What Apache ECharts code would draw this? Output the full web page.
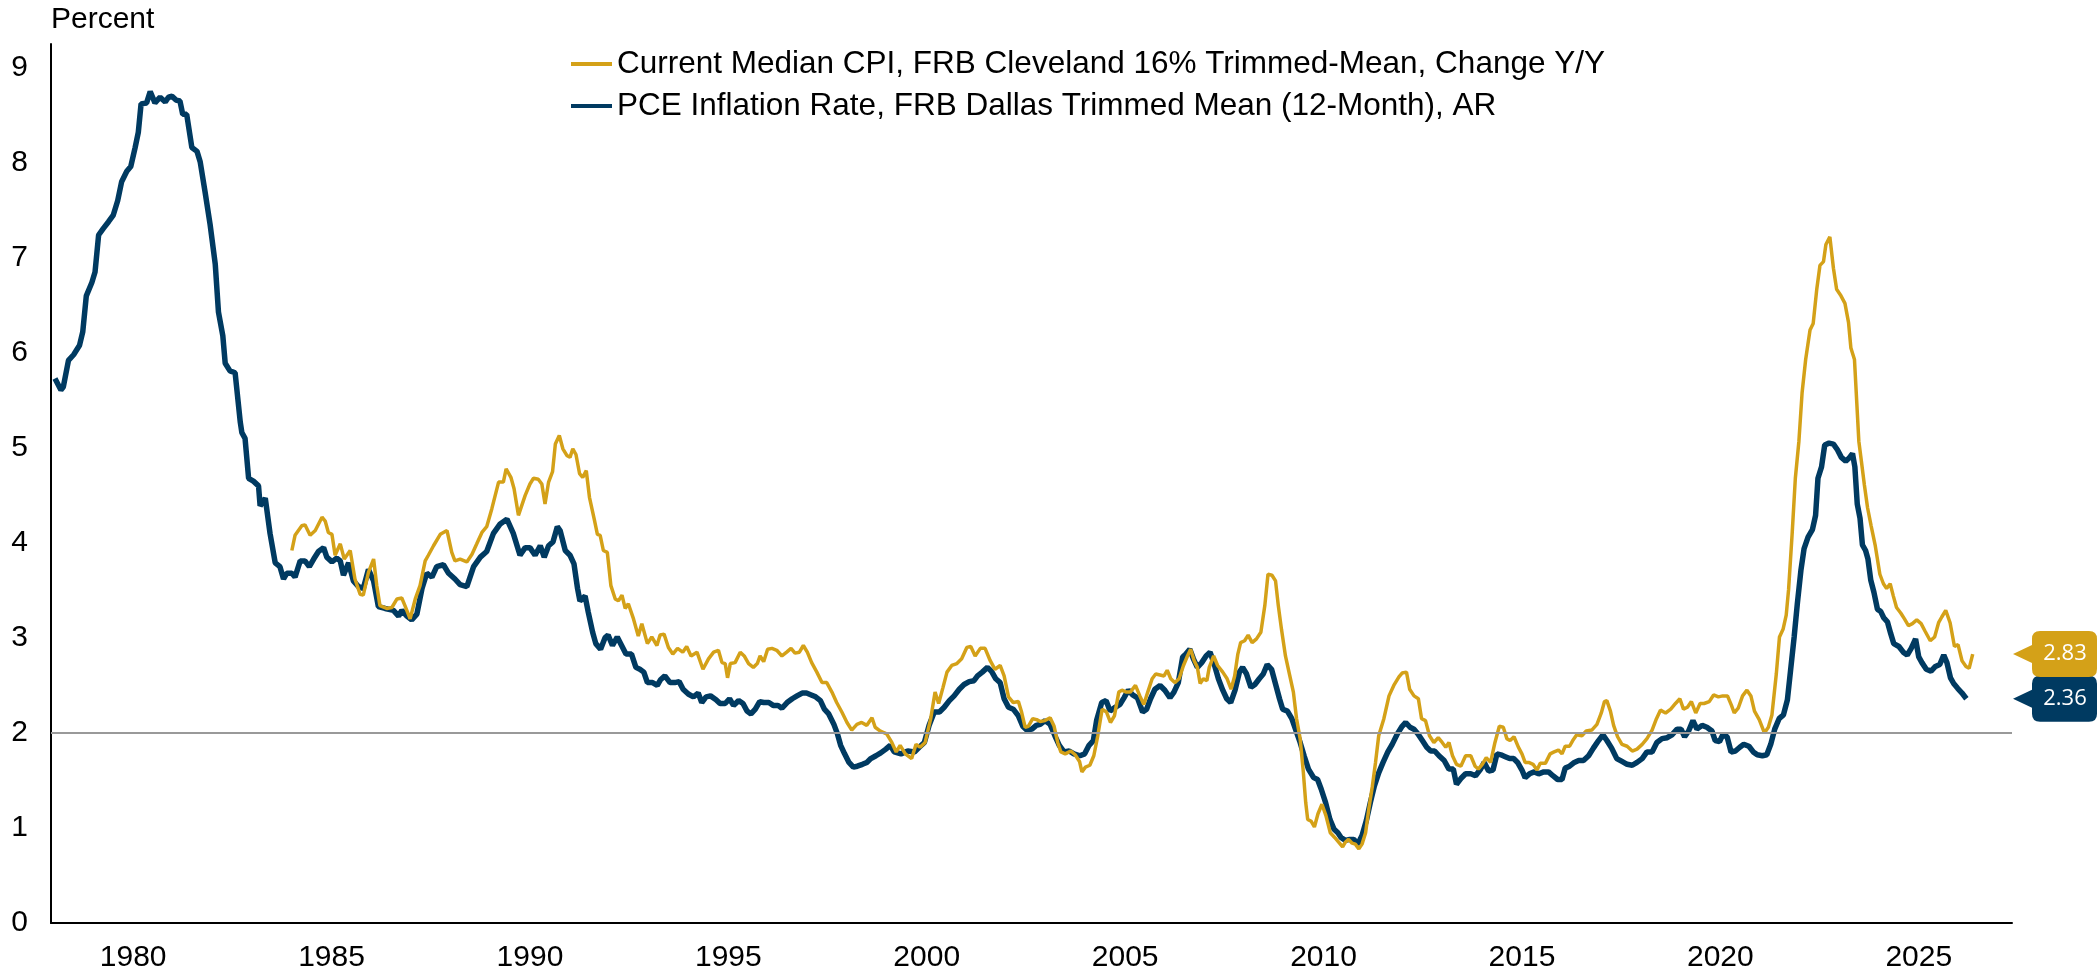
<!DOCTYPE html>
<html>
<head>
<meta charset="utf-8">
<script src="https://cdn.jsdelivr.net/npm/echarts@6/dist/echarts.min.js"></script>
<style>
  html, body { margin: 0; padding: 0; background: #fff; }
  #main { width: 2100px; height: 974px; }
</style>
</head>
<body>
<div id="main"></div>
<script>
// tick labels
var xTicks = [1980, 1985, 1990, 1995, 2000, 2005, 2010, 2015, 2020, 2025];
var yTicks = [0, 1, 2, 3, 4, 5, 6, 7, 8, 9];
var targetLine = 2;

var cpiName = 'Current Median CPI, FRB Cleveland 16% Trimmed-Mean, Change Y/Y';
var pceName = 'PCE Inflation Rate, FRB Dallas Trimmed Mean (12-Month), AR';

// [decimal year, percent]
var pcePoints = [
  [1978.03,5.73],[1978.18,5.61],[1978.24,5.64],[1978.37,5.92],[1978.50,5.98],[1978.65,6.08],[1978.73,6.22],[1978.82,6.60],[1978.96,6.74],
  [1979.04,6.85],[1979.13,7.24],[1979.25,7.31],[1979.38,7.38],[1979.50,7.45],[1979.61,7.60],[1979.71,7.80],[1979.84,7.91],[1979.94,7.96],
  [1980.05,8.16],[1980.13,8.32],[1980.20,8.62],[1980.34,8.63],[1980.43,8.75],[1980.55,8.63],[1980.68,8.69],[1980.81,8.64],[1980.89,8.69],[1980.98,8.70],
  [1981.08,8.66],[1981.18,8.65],[1981.25,8.51],[1981.35,8.51],[1981.48,8.16],[1981.61,8.12],[1981.69,8.01],[1981.81,7.70],[1981.94,7.35],
  [1982.07,6.93],[1982.15,6.43],[1982.26,6.18],[1982.32,5.89],[1982.44,5.81],[1982.57,5.79],[1982.70,5.27],[1982.74,5.16],[1982.82,5.10],[1982.91,4.68],
  [1983.03,4.65],[1983.16,4.60],[1983.20,4.39],[1983.33,4.47],[1983.45,4.10],[1983.58,3.79],[1983.70,3.75],[1983.79,3.62],[1983.87,3.68],
  [1984.00,3.68],[1984.08,3.64],[1984.21,3.81],[1984.33,3.81],[1984.44,3.75],[1984.55,3.83],[1984.67,3.91],[1984.80,3.95],[1984.88,3.85],
  [1985.01,3.80],[1985.13,3.84],[1985.22,3.81],[1985.30,3.66],[1985.43,3.79],[1985.55,3.60],[1985.68,3.54],[1985.80,3.52],[1985.93,3.72],
  [1986.06,3.60],[1986.18,3.33],[1986.35,3.31],[1986.56,3.29],[1986.69,3.23],[1986.77,3.29],[1986.90,3.23],
  [1987.02,3.19],[1987.15,3.25],[1987.28,3.52],[1987.40,3.68],[1987.53,3.64],[1987.65,3.75],[1987.82,3.77],[1987.95,3.68],
  [1988.11,3.62],[1988.24,3.56],[1988.41,3.54],[1988.58,3.75],[1988.75,3.85],[1988.91,3.91],
  [1989.08,4.10],[1989.25,4.20],[1989.42,4.25],[1989.58,4.10],[1989.75,3.87],[1989.88,3.95],
  [1990.00,3.95],[1990.13,3.87],[1990.26,3.97],[1990.36,3.85],[1990.47,3.97],[1990.58,4.01],[1990.69,4.17],[1990.76,4.13],[1990.89,3.92],
  [1991.01,3.87],[1991.11,3.78],[1991.20,3.52],[1991.26,3.39],[1991.39,3.44],[1991.47,3.27],[1991.58,3.06],[1991.66,2.94],[1991.78,2.88],[1991.89,3.00],[1991.97,3.03],
  [1992.08,2.92],[1992.20,3.01],[1992.31,2.92],[1992.42,2.83],[1992.56,2.83],[1992.67,2.69],[1992.77,2.67],[1992.87,2.64],[1992.96,2.53],
  [1993.09,2.53],[1993.21,2.50],[1993.29,2.56],[1993.40,2.60],[1993.53,2.53],[1993.65,2.53],[1993.76,2.54],[1993.86,2.46],[1993.99,2.41],
  [1994.12,2.38],[1994.24,2.42],[1994.33,2.32],[1994.44,2.38],[1994.55,2.39],[1994.69,2.35],[1994.79,2.31],[1994.92,2.31],
  [1995.03,2.36],[1995.13,2.29],[1995.26,2.34],[1995.37,2.31],[1995.47,2.23],[1995.57,2.20],[1995.68,2.25],[1995.79,2.33],[1995.89,2.32],
  [1996.02,2.32],[1996.13,2.29],[1996.25,2.29],[1996.35,2.26],[1996.48,2.32],[1996.61,2.36],[1996.73,2.39],[1996.86,2.42],[1996.97,2.42],
  [1997.09,2.40],[1997.20,2.38],[1997.32,2.34],[1997.42,2.25],[1997.53,2.20],[1997.66,2.09],[1997.75,1.99],[1997.83,1.87],[1997.93,1.78],
  [1998.04,1.69],[1998.15,1.64],[1998.25,1.65],[1998.38,1.67],[1998.49,1.69],[1998.59,1.73],[1998.72,1.76],[1998.84,1.79],[1998.97,1.83],
  [1999.08,1.87],[1999.18,1.80],[1999.35,1.78],[1999.52,1.81],[1999.69,1.80],[1999.81,1.85],[1999.94,1.90],
  [2000.06,2.08],[2000.19,2.22],[2000.32,2.22],[2000.44,2.27],[2000.57,2.34],[2000.69,2.39],[2000.82,2.46],[2000.94,2.51],
  [2001.07,2.54],[2001.19,2.55],[2001.28,2.60],[2001.40,2.64],[2001.53,2.69],[2001.63,2.65],[2001.74,2.57],[2001.85,2.53],[2001.95,2.36],
  [2002.06,2.27],[2002.18,2.25],[2002.31,2.18],[2002.42,2.07],[2002.52,2.03],[2002.65,2.04],[2002.76,2.08],[2002.86,2.09],[2002.98,2.13],
  [2003.11,2.09],[2003.23,1.97],[2003.34,1.87],[2003.46,1.80],[2003.59,1.81],[2003.71,1.78],[2003.86,1.76],[2003.98,1.78],
  [2004.09,1.87],[2004.20,1.92],[2004.28,2.13],[2004.41,2.32],[2004.52,2.34],[2004.62,2.23],[2004.75,2.27],[2004.87,2.30],[2004.97,2.37],
  [2005.08,2.45],[2005.19,2.40],[2005.31,2.37],[2005.44,2.22],[2005.54,2.25],[2005.64,2.36],[2005.75,2.46],[2005.88,2.50],
  [2006.00,2.45],[2006.13,2.37],[2006.23,2.43],[2006.34,2.53],[2006.45,2.80],[2006.53,2.83],[2006.63,2.88],[2006.72,2.78],[2006.82,2.69],[2006.93,2.74],
  [2007.04,2.81],[2007.14,2.85],[2007.24,2.73],[2007.35,2.57],[2007.46,2.45],[2007.56,2.36],[2007.66,2.32],[2007.77,2.45],[2007.88,2.64],[2007.96,2.69],
  [2008.06,2.62],[2008.17,2.48],[2008.27,2.51],[2008.38,2.57],[2008.48,2.62],[2008.58,2.72],[2008.69,2.67],[2008.80,2.50],[2008.89,2.36],[2008.97,2.25],
  [2009.09,2.23],[2009.20,2.15],[2009.31,2.02],[2009.41,1.90],[2009.51,1.76],[2009.62,1.62],[2009.75,1.53],[2009.85,1.51],[2009.94,1.41],
  [2010.05,1.27],[2010.16,1.09],[2010.26,0.99],[2010.36,0.95],[2010.44,0.90],[2010.55,0.87],[2010.66,0.88],[2010.76,0.88],[2010.86,0.83],[2010.97,0.92],
  [2011.08,1.08],[2011.18,1.27],[2011.28,1.44],[2011.39,1.58],[2011.50,1.69],[2011.62,1.80],[2011.73,1.88],[2011.86,1.99],[2011.98,2.07],
  [2012.07,2.11],[2012.18,2.06],[2012.28,2.04],[2012.38,1.99],[2012.49,1.92],[2012.60,1.85],[2012.70,1.81],[2012.80,1.81],[2012.91,1.76],
  [2013.04,1.71],[2013.16,1.62],[2013.27,1.62],[2013.35,1.46],[2013.46,1.52],[2013.58,1.57],[2013.71,1.57],[2013.83,1.55],[2013.96,1.62],
  [2014.05,1.69],[2014.16,1.60],[2014.27,1.61],[2014.37,1.78],[2014.47,1.77],[2014.58,1.75],[2014.69,1.73],[2014.79,1.73],[2014.89,1.69],
  [2015.00,1.61],[2015.08,1.53],[2015.19,1.57],[2015.31,1.59],[2015.42,1.57],[2015.55,1.59],[2015.67,1.59],[2015.78,1.55],[2015.90,1.51],
  [2016.01,1.51],[2016.09,1.63],[2016.20,1.65],[2016.32,1.69],[2016.43,1.71],[2016.55,1.71],[2016.68,1.76],[2016.80,1.84],[2016.93,1.92],
  [2017.04,1.98],[2017.14,1.92],[2017.26,1.84],[2017.39,1.73],[2017.52,1.70],[2017.65,1.67],[2017.78,1.66],[2017.90,1.69],
  [2018.03,1.73],[2018.15,1.80],[2018.28,1.80],[2018.40,1.90],[2018.53,1.94],[2018.66,1.95],[2018.78,1.98],[2018.91,2.04],
  [2019.01,2.04],[2019.10,1.96],[2019.20,2.02],[2019.31,2.13],[2019.41,2.04],[2019.54,2.08],[2019.66,2.06],[2019.79,2.02],[2019.87,1.92],[2019.98,1.91],
  [2020.06,1.98],[2020.17,1.96],[2020.27,1.80],[2020.38,1.81],[2020.49,1.85],[2020.59,1.88],[2020.72,1.86],[2020.83,1.80],[2020.93,1.77],
  [2021.06,1.76],[2021.17,1.77],[2021.27,1.88],[2021.37,2.04],[2021.48,2.15],[2021.59,2.19],[2021.69,2.35],[2021.77,2.66],[2021.86,3.01],[2021.94,3.36],
  [2022.03,3.71],[2022.11,3.94],[2022.21,4.06],[2022.32,4.14],[2022.40,4.29],[2022.46,4.68],[2022.55,4.80],[2022.63,5.03],[2022.74,5.05],[2022.85,5.04],[2022.95,4.98],
  [2023.05,4.90],[2023.16,4.86],[2023.24,4.89],[2023.33,4.94],[2023.39,4.80],[2023.45,4.41],[2023.52,4.26],[2023.58,3.98],[2023.66,3.92],[2023.72,3.83],[2023.79,3.61],[2023.87,3.48],[2023.96,3.30],
  [2024.04,3.28],[2024.12,3.21],[2024.21,3.17],[2024.29,3.05],[2024.37,2.94],[2024.50,2.91],[2024.61,2.85],[2024.71,2.82],[2024.81,2.89],[2024.92,2.99],
  [2025.00,2.80],[2025.08,2.74],[2025.19,2.67],[2025.31,2.65],[2025.42,2.70],[2025.53,2.72],[2025.63,2.82],[2025.71,2.74],[2025.80,2.58],[2025.88,2.52],[2025.98,2.47],
  [2026.09,2.42],[2026.20,2.36]
];

var cpiPoints = [
  [1984.00,3.92],[1984.08,4.08],[1984.25,4.18],[1984.33,4.19],[1984.46,4.08],[1984.59,4.13],[1984.76,4.27],[1984.84,4.23],[1984.92,4.11],
  [1985.01,4.09],[1985.09,3.87],[1985.22,3.99],[1985.32,3.83],[1985.47,3.92],[1985.59,3.62],[1985.72,3.46],[1985.80,3.45],[1985.93,3.69],
  [1986.06,3.83],[1986.14,3.55],[1986.22,3.34],[1986.39,3.31],[1986.52,3.32],[1986.65,3.41],[1986.77,3.42],[1986.85,3.34],[1986.98,3.20],
  [1987.11,3.41],[1987.23,3.55],[1987.36,3.81],[1987.44,3.87],[1987.57,3.97],[1987.74,4.09],[1987.91,4.13],
  [1988.03,3.90],[1988.11,3.81],[1988.24,3.83],[1988.41,3.80],[1988.54,3.88],[1988.66,3.99],[1988.79,4.11],[1988.91,4.17],
  [1989.04,4.36],[1989.21,4.64],[1989.33,4.64],[1989.40,4.78],[1989.52,4.69],[1989.60,4.57],[1989.71,4.29],[1989.88,4.50],
  [1990.00,4.62],[1990.09,4.68],[1990.21,4.67],[1990.30,4.62],[1990.38,4.41],[1990.47,4.64],[1990.57,4.75],[1990.64,5.04],[1990.74,5.13],[1990.83,4.99],[1990.93,4.92],
  [1991.01,4.90],[1991.08,4.99],[1991.16,4.93],[1991.25,4.73],[1991.33,4.69],[1991.42,4.76],[1991.50,4.48],[1991.62,4.25],[1991.70,4.09],[1991.77,4.08],[1991.85,3.92],[1991.95,3.90],
  [1992.04,3.55],[1992.15,3.41],[1992.23,3.39],[1992.32,3.45],[1992.40,3.31],[1992.48,3.36],[1992.61,3.20],[1992.73,3.02],[1992.82,3.15],[1992.96,2.94],
  [1993.07,3.01],[1993.20,2.92],[1993.28,3.03],[1993.38,3.04],[1993.49,2.90],[1993.60,2.83],[1993.72,2.89],[1993.85,2.85],[1993.95,2.91],
  [1994.06,2.81],[1994.21,2.85],[1994.36,2.67],[1994.50,2.78],[1994.63,2.85],[1994.75,2.87],[1994.84,2.74],[1994.92,2.73],[1994.98,2.58],
  [1995.05,2.73],[1995.17,2.74],[1995.30,2.85],[1995.40,2.81],[1995.51,2.73],[1995.63,2.69],[1995.73,2.73],[1995.80,2.81],[1995.89,2.75],[1995.99,2.88],
  [1996.10,2.89],[1996.22,2.87],[1996.35,2.81],[1996.47,2.85],[1996.58,2.89],[1996.68,2.84],[1996.79,2.85],[1996.89,2.92],[1996.99,2.85],
  [1997.10,2.74],[1997.23,2.64],[1997.36,2.53],[1997.48,2.53],[1997.61,2.43],[1997.73,2.32],[1997.86,2.22],[1997.99,2.11],
  [1998.11,2.03],[1998.24,2.09],[1998.36,2.11],[1998.49,2.08],[1998.62,2.16],[1998.70,2.06],[1998.83,2.02],[1998.99,1.99],
  [1999.12,1.90],[1999.23,1.80],[1999.33,1.87],[1999.46,1.78],[1999.62,1.73],[1999.73,1.88],[1999.83,1.85],[1999.96,1.90],
  [2000.10,2.15],[2000.21,2.43],[2000.30,2.31],[2000.41,2.48],[2000.51,2.64],[2000.63,2.71],[2000.76,2.73],[2000.88,2.78],
  [2001.01,2.90],[2001.11,2.91],[2001.22,2.81],[2001.35,2.89],[2001.47,2.89],[2001.60,2.76],[2001.72,2.67],[2001.85,2.71],[2001.95,2.60],
  [2002.06,2.38],[2002.18,2.32],[2002.31,2.33],[2002.39,2.22],[2002.48,2.06],[2002.56,2.07],[2002.67,2.15],[2002.77,2.14],[2002.86,2.12],[2002.98,2.13],
  [2003.11,2.16],[2003.21,2.07],[2003.30,1.90],[2003.38,1.80],[2003.49,1.78],[2003.63,1.81],[2003.74,1.77],[2003.85,1.70],[2003.91,1.59],
  [2004.00,1.64],[2004.11,1.66],[2004.21,1.76],[2004.31,1.97],[2004.42,2.25],[2004.53,2.22],[2004.63,2.11],[2004.73,2.18],[2004.84,2.43],[2004.92,2.45],
  [2005.03,2.43],[2005.13,2.43],[2005.26,2.50],[2005.37,2.39],[2005.47,2.30],[2005.57,2.43],[2005.68,2.57],[2005.77,2.62],[2005.88,2.61],[2005.98,2.60],
  [2006.06,2.66],[2006.15,2.57],[2006.25,2.53],[2006.36,2.57],[2006.47,2.71],[2006.57,2.81],[2006.65,2.88],[2006.74,2.76],[2006.82,2.69],[2006.89,2.52],[2006.97,2.57],
  [2007.06,2.55],[2007.12,2.69],[2007.23,2.81],[2007.33,2.71],[2007.46,2.64],[2007.57,2.57],[2007.67,2.46],[2007.76,2.60],[2007.84,2.83],[2007.91,2.95],
  [2008.01,2.97],[2008.10,3.03],[2008.20,2.95],[2008.31,2.99],[2008.42,3.06],[2008.52,3.34],[2008.60,3.67],[2008.70,3.66],[2008.79,3.60],[2008.86,3.34],[2008.94,3.09],
  [2009.04,2.81],[2009.15,2.60],[2009.24,2.43],[2009.32,2.15],[2009.41,1.94],[2009.49,1.59],[2009.55,1.27],[2009.60,1.09],[2009.69,1.07],[2009.77,1.01],[2009.86,1.15],[2009.96,1.25],
  [2010.06,1.13],[2010.17,0.95],[2010.28,0.90],[2010.38,0.85],[2010.48,0.80],[2010.55,0.85],[2010.63,0.88],[2010.72,0.84],[2010.80,0.83],[2010.89,0.78],[2010.97,0.83],
  [2011.06,0.95],[2011.14,1.20],[2011.23,1.44],[2011.31,1.69],[2011.39,1.97],[2011.52,2.15],[2011.65,2.39],[2011.77,2.50],[2011.90,2.59],[2011.98,2.63],
  [2012.09,2.64],[2012.17,2.46],[2012.28,2.39],[2012.39,2.36],[2012.47,2.15],[2012.57,2.13],[2012.67,1.97],[2012.78,1.90],[2012.89,1.95],[2012.99,1.90],
  [2013.08,1.85],[2013.16,1.90],[2013.25,1.76],[2013.35,1.67],[2013.46,1.65],[2013.58,1.76],[2013.71,1.76],[2013.82,1.65],[2013.90,1.62],
  [2014.00,1.67],[2014.10,1.74],[2014.21,1.69],[2014.32,1.90],[2014.43,2.07],[2014.53,2.06],[2014.62,1.94],[2014.70,1.92],[2014.80,1.96],[2014.91,1.85],
  [2015.00,1.78],[2015.08,1.69],[2015.17,1.69],[2015.28,1.67],[2015.38,1.61],[2015.46,1.68],[2015.59,1.68],[2015.71,1.78],[2015.81,1.80],[2015.92,1.82],
  [2016.01,1.78],[2016.09,1.86],[2016.20,1.86],[2016.28,1.92],[2016.38,1.98],[2016.51,1.97],[2016.62,2.02],[2016.76,2.03],[2016.89,2.09],
  [2017.00,2.21],[2017.08,2.33],[2017.14,2.34],[2017.23,2.23],[2017.31,2.08],[2017.41,1.96],[2017.52,1.88],[2017.65,1.86],[2017.78,1.81],[2017.90,1.83],
  [2018.03,1.88],[2018.15,1.94],[2018.28,2.03],[2018.39,2.15],[2018.49,2.24],[2018.62,2.21],[2018.75,2.25],[2018.87,2.31],[2018.98,2.36],
  [2019.07,2.25],[2019.17,2.27],[2019.27,2.33],[2019.38,2.21],[2019.49,2.31],[2019.59,2.31],[2019.72,2.33],[2019.83,2.40],[2019.95,2.38],
  [2020.06,2.39],[2020.18,2.39],[2020.28,2.29],[2020.35,2.21],[2020.45,2.26],[2020.56,2.39],[2020.67,2.45],[2020.77,2.39],[2020.86,2.23],[2020.98,2.14],
  [2021.11,2.00],[2021.21,2.06],[2021.30,2.19],[2021.41,2.62],[2021.49,3.01],[2021.58,3.09],[2021.66,3.24],[2021.72,3.51],[2021.81,4.10],[2021.89,4.68],[2021.98,5.07],
  [2022.06,5.58],[2022.15,5.93],[2022.26,6.24],[2022.34,6.31],[2022.43,6.67],[2022.51,6.92],[2022.60,6.96],[2022.66,7.14],[2022.76,7.22],[2022.85,6.89],[2022.93,6.67],
  [2023.04,6.60],[2023.14,6.52],[2023.23,6.32],[2023.29,6.05],[2023.38,5.93],[2023.43,5.54],[2023.49,5.07],[2023.56,4.84],[2023.63,4.61],[2023.71,4.37],[2023.80,4.18],[2023.90,3.98],
  [2024.02,3.67],[2024.11,3.57],[2024.19,3.52],[2024.28,3.57],[2024.36,3.44],[2024.44,3.32],[2024.55,3.26],[2024.64,3.20],[2024.74,3.13],[2024.84,3.15],[2024.95,3.19],
  [2025.06,3.15],[2025.16,3.07],[2025.29,2.97],[2025.40,3.01],[2025.50,3.16],[2025.58,3.22],[2025.68,3.29],[2025.79,3.16],[2025.90,2.91],[2025.99,2.93],
  [2026.09,2.76],[2026.19,2.70],[2026.27,2.68],[2026.36,2.83]
];

var gold = '#D4A118';
var navy = '#003A61';
var xMin = 1977.93;
var xMax = 2027.35;

// callout: arrow pointing left + rounded box
var calloutPath = 'path://M0,23 L19,14 L19,8 Q19,0 27,0 L76,0 Q84,0 84,8 L84,38 Q84,46 76,46 L27,46 Q19,46 19,38 L19,32 Z';

function callout(points, color) {
  var last = points[points.length - 1];
  return {
    silent: true,
    animation: false,
    symbol: calloutPath,
    symbolSize: [84, 46],
    symbolKeepAspect: false,
    symbolOffset: [43, 0],
    itemStyle: { color: color },
    label: {
      show: true,
      position: 'inside',
      offset: [10, 0],
      color: '#fff',
      fontFamily: 'Open Sans',
      fontSize: 22,
      formatter: function () { return last[1].toFixed(2); }
    },
    data: [{ coord: [xMax, last[1]] }]
  };
}

var chart = echarts.init(document.getElementById('main'), null, { renderer: 'canvas' });

var option = {
  animation: false,
  backgroundColor: '#fff',
  textStyle: { fontFamily: 'Liberation Sans, Arial, sans-serif', color: '#000' },
  grid: { left: 51, top: 44, width: 1961, height: 879, containLabel: false },
  legend: {
    orient: 'vertical',
    left: 566,
    top: 43,
    itemWidth: 41,
    itemHeight: 4,
    itemGap: 10,
    icon: 'rect',
    textStyle: { fontSize: 31.5, color: '#000', fontFamily: 'Liberation Sans, Arial, sans-serif' },
    data: [cpiName, pceName]
  },
  xAxis: {
    type: 'value',
    min: xMin,
    max: xMax,
    axisLine: { show: true, onZero: false, lineStyle: { color: '#000', width: 2 } },
    axisTick: { show: false },
    splitLine: { show: false },
    axisLabel: {
      customValues: xTicks,
      fontSize: 30,
      color: '#000',
      margin: 20,
      formatter: function (v) { return String(v); }
    }
  },
  yAxis: {
    type: 'value',
    min: 0,
    max: 9.25,
    name: 'Percent',
    nameLocation: 'end',
    nameGap: 24,
    nameTextStyle: { fontSize: 30, color: '#000', align: 'left', verticalAlign: 'middle' },
    axisLine: { show: true, lineStyle: { color: '#000', width: 2 } },
    axisTick: { show: false },
    splitLine: { show: false },
    axisLabel: { customValues: yTicks, fontSize: 30, color: '#000', margin: 23 }
  },
  series: [
    {
      name: 'target',
      type: 'line',
      data: [],
      z: 1,
      silent: true,
      markLine: {
        silent: true,
        symbol: 'none',
        label: { show: false },
        lineStyle: { color: '#999', width: 2, type: 'solid' },
        data: [{ yAxis: targetLine }]
      }
    },
    {
      name: pceName,
      type: 'line',
      data: pcePoints,
      z: 2,
      showSymbol: false,
      color: navy,
      lineStyle: { color: navy, width: 5.5 },
      markPoint: callout(pcePoints, navy)
    },
    {
      name: cpiName,
      type: 'line',
      data: cpiPoints,
      z: 3,
      showSymbol: false,
      color: gold,
      lineStyle: { color: gold, width: 3.5 },
      markPoint: callout(cpiPoints, gold)
    }
  ]
};

chart.setOption(option);
</script>
</body>
</html>
